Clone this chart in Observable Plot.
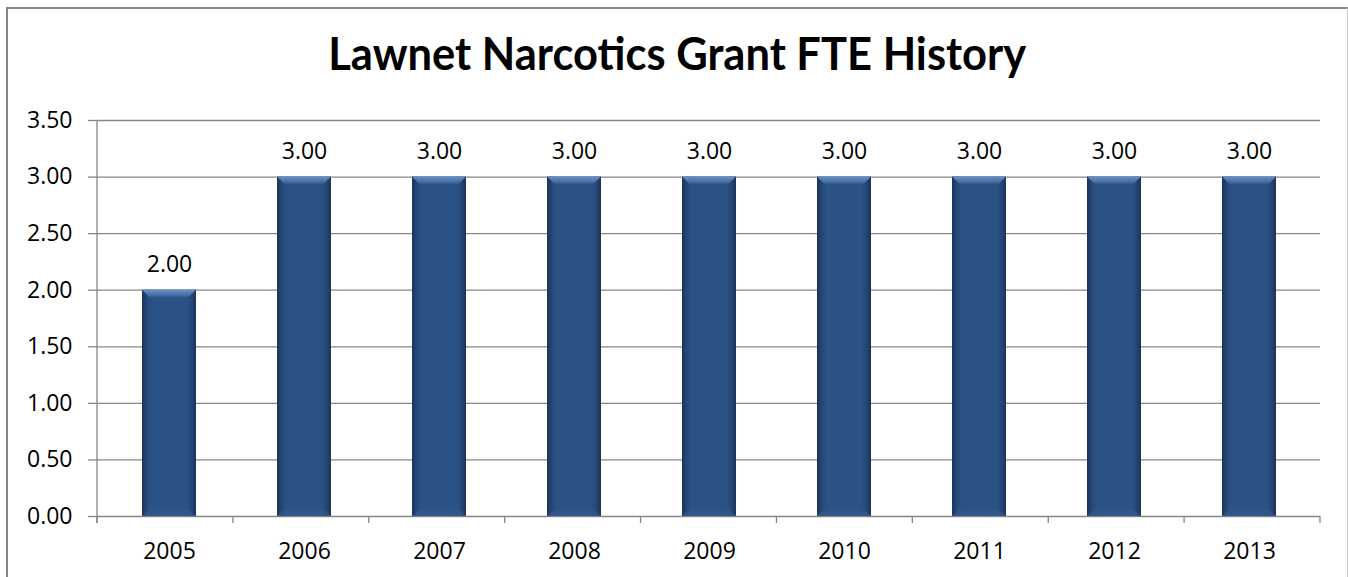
<!DOCTYPE html>
<html>
<head>
<meta charset="utf-8">
<script src="https://cdn.jsdelivr.net/npm/d3@7"></script>
<script src="https://cdn.jsdelivr.net/npm/@observablehq/plot@0.6"></script>
<style>
  html, body { margin: 0; padding: 0; background: #fff; }
  #wrap { position: relative; width: 1348px; height: 577px; overflow: hidden; background: #fff; }
  #frame { position: absolute; left: 6px; top: 7px; width: 1339px; height: 600px;
           border-left: 2px solid #868686; border-top: 2px solid #868686; border-right: 1px solid #c8c8c8; }
  #title { position: absolute; left: 0; top: 23px; width: 1354px; text-align: center;
           font-family: "Lato", "Open Sans", sans-serif; font-weight: 700; font-size: 46px; line-height: 60px; color: #000; }
  #title span { display: inline-block; transform-origin: center; white-space: nowrap; }
  #chart { position: absolute; left: 0; top: 95px; }
</style>
</head>
<body>
<div id="wrap">
  <div id="frame"></div>
  <div id="title"><span id="titleText">Lawnet Narcotics Grant FTE History</span></div>
  <div id="chart"></div>
</div>
<script>
const years = ["2005", "2006", "2007", "2008", "2009", "2010", "2011", "2012", "2013"];
const fte = [2.00, 3.00, 3.00, 3.00, 3.00, 3.00, 3.00, 3.00, 3.00];
const yTicks = [0, 0.5, 1, 1.5, 2, 2.5, 3, 3.5];

const data = years.map((y, i) => ({year: y, fte: fte[i]}));

// fit title width to the original
const ts = document.getElementById("titleText");
const tw = ts.getBoundingClientRect().width;
ts.style.transform = `scaleX(${698 / tw})`;

const W = 1348, H = 482, mL = 97, mR = 28, mT = 25, mB = 61;
const FS = 23;

const boundaryTicks = (index, scales, values, dimensions) => {
  const g = d3.create("svg:g");
  const n = years.length;
  const step = (dimensions.width - dimensions.marginLeft - dimensions.marginRight) / n;
  const y0 = dimensions.height - dimensions.marginBottom;
  for (let i = 0; i <= n; i++) {
    const x = dimensions.marginLeft + i * step;
    g.append("line").attr("x1", x).attr("x2", x).attr("y1", y0).attr("y2", y0 + 7)
      .attr("stroke", "#868686").attr("stroke-width", 1.3);
  }
  g.append("line").attr("x1", dimensions.marginLeft).attr("x2", dimensions.marginLeft)
    .attr("y1", dimensions.marginTop).attr("y2", y0 + 7)
    .attr("stroke", "#868686").attr("stroke-width", 1.3);
  return g.node();
};

const plot = Plot.plot({
  width: W, height: H,
  marginLeft: mL, marginRight: mR, marginTop: mT, marginBottom: mB,
  style: {fontFamily: "'Open Sans', sans-serif", fontSize: FS + "px", color: "#000", background: "transparent", overflow: "visible"},
  x: {domain: years, paddingInner: 0.6, paddingOuter: 0.3, label: null},
  y: {domain: [0, 3.5], label: null},
  marks: [
    Plot.gridY(yTicks, {stroke: "#868686", strokeOpacity: 1, strokeWidth: 1.3}),
    Plot.axisY(yTicks, {tickSize: 9, tickPadding: 16, tickFormat: d3.format(".2f"), stroke: "#868686", strokeWidth: 1.3, fill: "#000", fontSize: FS, label: null}),
    Plot.axisX({tickSize: 0, tickPadding: 26, fill: "#000", fontSize: FS, label: null}),
    boundaryTicks,
    Plot.barY(data, {x: "year", y: "fte", fill: "url(#sideGrad)", className: "bars"}),
    Plot.text(data, {x: "year", y: "fte", text: d => d3.format(".2f")(d.fte), lineAnchor: "bottom", dy: -18, fill: "#000", fontSize: FS})
  ]
});

document.getElementById("chart").appendChild(plot);

// bevel effects
const svgSel = d3.select(plot);
const defs = svgSel.insert("defs", ":first-child");
const sideG = defs.append("linearGradient").attr("id", "sideGrad").attr("x1", 0).attr("x2", 1).attr("y1", 0).attr("y2", 0);
[["0%", "#1a3458"], ["10%", "#27497a"], ["18%", "#2b5285"], ["82%", "#2b5285"], ["90%", "#27497a"], ["100%", "#1a3458"]]
  .forEach(([o, c]) => sideG.append("stop").attr("offset", o).attr("stop-color", c));
const topG = defs.append("linearGradient").attr("id", "topGrad").attr("x1", 0).attr("x2", 0).attr("y1", 0).attr("y2", 1);
[["0%", "#6a90c4"], ["100%", "#3a639b"]].forEach(([o, c]) => topG.append("stop").attr("offset", o).attr("stop-color", c));
const botG = defs.append("linearGradient").attr("id", "botGrad").attr("x1", 0).attr("x2", 0).attr("y1", 0).attr("y2", 1);
[["0%", "#2d5488"], ["100%", "#3a5f92"]].forEach(([o, c]) => botG.append("stop").attr("offset", o).attr("stop-color", c));

svgSel.selectAll(".bars rect").each(function() {
  const r = d3.select(this);
  const x = +r.attr("x"), y = +r.attr("y"), bw = +r.attr("width"), bh = +r.attr("height");
  const b = 7;
  const parent = d3.select(this.parentNode);
  parent.append("polygon")
    .attr("points", `${x},${y} ${x + bw},${y} ${x + bw - b},${y + b} ${x + b},${y + b}`)
    .attr("fill", "url(#topGrad)");
  parent.append("polygon")
    .attr("points", `${x},${y + bh} ${x + bw},${y + bh} ${x + bw - b},${y + bh - b} ${x + b},${y + bh - b}`)
    .attr("fill", "url(#botGrad)").attr("opacity", 0.6);
});
</script>
</body>
</html>
